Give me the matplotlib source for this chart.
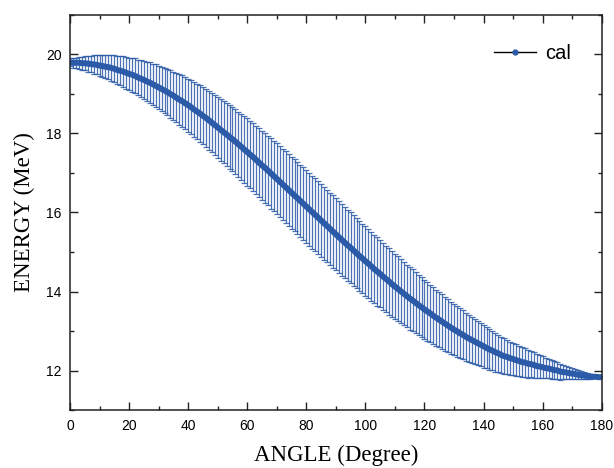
import matplotlib.pyplot as plt
from matplotlib.lines import Line2D
from matplotlib.ticker import MultipleLocator

# angle in degrees, one point per degree
angle = list(range(0, 181))

# calculated energy (MeV)
energy = [
    19.79, 19.78, 19.78, 19.78, 19.77, 19.77, 19.76, 19.75, 19.74, 19.73,
    19.71, 19.70, 19.68, 19.67, 19.65, 19.63, 19.60, 19.58, 19.56, 19.53,
    19.50, 19.48, 19.45, 19.41, 19.38, 19.35, 19.31, 19.28, 19.24, 19.20,
    19.16, 19.12, 19.08, 19.04, 18.99, 18.95, 18.90, 18.85, 18.81, 18.76,
    18.71, 18.66, 18.60, 18.55, 18.50, 18.44, 18.39, 18.33, 18.27, 18.21,
    18.15, 18.09, 18.03, 17.97, 17.91, 17.85, 17.79, 17.72, 17.66, 17.59,
    17.53, 17.46, 17.40, 17.33, 17.26, 17.19, 17.13, 17.06, 16.99, 16.92,
    16.85, 16.78, 16.71, 16.64, 16.57, 16.50, 16.43, 16.36, 16.29, 16.22,
    16.15, 16.08, 16.01, 15.94, 15.87, 15.80, 15.73, 15.66, 15.59, 15.52,
    15.45, 15.38, 15.31, 15.24, 15.17, 15.11, 15.04, 14.97, 14.90, 14.84,
    14.77, 14.71, 14.64, 14.57, 14.51, 14.45, 14.38, 14.32, 14.26, 14.19,
    14.13, 14.07, 14.01, 13.95, 13.89, 13.83, 13.78, 13.72, 13.66, 13.61,
    13.55, 13.50, 13.45, 13.39, 13.34, 13.29, 13.24, 13.19, 13.14, 13.09,
    13.04, 13.00, 12.95, 12.91, 12.86, 12.82, 12.78, 12.74, 12.70, 12.66,
    12.62, 12.58, 12.54, 12.51, 12.47, 12.44, 12.40, 12.37, 12.35, 12.32,
    12.30, 12.27, 12.25, 12.22, 12.21, 12.18, 12.17, 12.15, 12.12, 12.11,
    12.09, 12.07, 12.06, 12.04, 12.02, 12.01, 11.98, 11.97, 11.96, 11.94,
    11.93, 11.92, 11.90, 11.89, 11.88, 11.87, 11.86, 11.85, 11.85, 11.84,
    11.84,
]

# symmetric error (MeV)
error = [
    0.10, 0.12, 0.13, 0.15, 0.16, 0.18, 0.20, 0.21, 0.23, 0.24,
    0.26, 0.27, 0.29, 0.31, 0.32, 0.34, 0.35, 0.37, 0.38, 0.40,
    0.41, 0.43, 0.44, 0.45, 0.47, 0.48, 0.50, 0.51, 0.52, 0.54,
    0.55, 0.56, 0.58, 0.59, 0.60, 0.61, 0.62, 0.64, 0.65, 0.66,
    0.67, 0.68, 0.69, 0.70, 0.71, 0.72, 0.73, 0.74, 0.75, 0.76,
    0.77, 0.78, 0.79, 0.80, 0.80, 0.81, 0.82, 0.83, 0.83, 0.84,
    0.85, 0.85, 0.86, 0.86, 0.87, 0.87, 0.88, 0.88, 0.89, 0.89,
    0.90, 0.90, 0.90, 0.90, 0.91, 0.91, 0.91, 0.91, 0.91, 0.92,
    0.92, 0.92, 0.92, 0.92, 0.92, 0.92, 0.92, 0.92, 0.91, 0.91,
    0.91, 0.91, 0.91, 0.90, 0.90, 0.90, 0.89, 0.89, 0.89, 0.88,
    0.88, 0.87, 0.87, 0.86, 0.86, 0.85, 0.85, 0.84, 0.84, 0.83,
    0.82, 0.82, 0.81, 0.80, 0.79, 0.79, 0.78, 0.77, 0.76, 0.75,
    0.74, 0.74, 0.73, 0.72, 0.71, 0.70, 0.69, 0.68, 0.67, 0.66,
    0.65, 0.64, 0.63, 0.62, 0.60, 0.59, 0.58, 0.57, 0.56, 0.55,
    0.54, 0.52, 0.51, 0.50, 0.49, 0.47, 0.46, 0.45, 0.44, 0.42,
    0.41, 0.40, 0.39, 0.37, 0.36, 0.35, 0.33, 0.32, 0.31, 0.29,
    0.28, 0.26, 0.25, 0.24, 0.22, 0.21, 0.20, 0.18, 0.17, 0.15,
    0.14, 0.13, 0.11, 0.10, 0.08, 0.07, 0.06, 0.04, 0.03, 0.02,
    0.02,
]

blue = '#2b5aa8'

fig = plt.figure(figsize=(6.14, 4.68), dpi=100)
ax = fig.add_axes([0.114, 0.123, 0.866, 0.846])

ax.errorbar(angle, energy, yerr=error, fmt='none', ecolor=blue,
            elinewidth=0.9, capsize=2.2, capthick=0.9, alpha=0.85)
ax.plot(angle, energy, color=blue, lw=4.3, solid_capstyle='butt')

ax.set_xlim(0, 180)
ax.set_ylim(11, 21)
ax.xaxis.set_major_locator(MultipleLocator(20))
ax.xaxis.set_minor_locator(MultipleLocator(10))
ax.yaxis.set_major_locator(MultipleLocator(2))
ax.yaxis.set_minor_locator(MultipleLocator(1))

ax.tick_params(which='both', direction='in', top=True, right=True,
               width=1.0, colors='#222222')
ax.tick_params(which='major', length=5.5, pad=6)
ax.tick_params(which='minor', length=3)
for lbl in ax.get_xticklabels() + ax.get_yticklabels():
    lbl.set_fontfamily('Liberation Sans')
    lbl.set_fontsize(10)
    lbl.set_color('black')
for sp in ax.spines.values():
    sp.set_linewidth(1.1)
    sp.set_color('#222222')

ax.set_xlabel('ANGLE (Degree)', fontfamily='Liberation Serif', fontsize=16.5, labelpad=9)
ax.set_ylabel('ENERGY (MeV)', fontfamily='Liberation Serif', fontsize=16.5, labelpad=8)

handle = Line2D([], [], color='black', lw=1.0, marker='o', markersize=3.5,
                markerfacecolor=blue, markeredgecolor=blue)
ax.legend([handle], ['cal'], loc='center left', bbox_to_anchor=(0.797, 0.902),
          frameon=False, borderpad=0, borderaxespad=0, handlelength=2.1,
          handletextpad=0.45, prop={'family': 'Liberation Sans', 'size': 14.5})

fig.savefig('out.png', dpi=100)
